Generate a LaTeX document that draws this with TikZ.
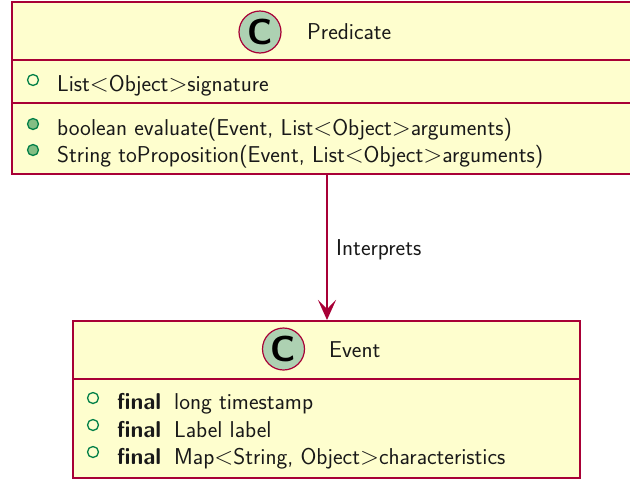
\documentclass[tikz,border=0pt]{standalone}
\usetikzlibrary{arrows.meta}
\definecolor{boxfill}{HTML}{FEFECE}
\definecolor{boxline}{HTML}{A80036}
\definecolor{cfill}{HTML}{ADD1B2}
\definecolor{attrline}{HTML}{038048}
\definecolor{methfill}{HTML}{84BE84}
\tikzset{
  classbox/.style={draw=boxline, fill=boxfill, line width=2pt, rectangle, inner sep=0pt},
  sepline/.style={draw=boxline, line width=2pt},
  txt/.style={anchor=base west, inner sep=0pt, font=\fontsize{22.9}{25}\selectfont\sffamily, text=black!90},
  cmark/.style={circle, draw=boxline, fill=cfill, line width=1.2pt, minimum size=42pt, inner sep=0pt, font=\fontsize{36}{36}\selectfont\sffamily\bfseries},
  attr/.style={circle, draw=attrline, fill=boxfill, line width=1.3pt, minimum size=11pt, inner sep=0pt},
  meth/.style={circle, draw=attrline, fill=methfill, line width=1.3pt, minimum size=11pt, inner sep=0pt},
  link/.style={draw=boxline, line width=1.5pt, -{Stealth[length=20pt,width=18pt,inset=9pt]}}
}
\begin{document}
\begin{tikzpicture}[x=1pt,y=1pt]
\clip (0,0) rectangle (630,-480);
\fill[white] (0,0) rectangle (630,-480);
% Predicate class
\node[classbox, minimum width=630pt, minimum height=172pt, anchor=north west] (pred) at (11,-1) {};
\draw[sepline] (11,-60) -- (641,-60);
\draw[sepline] (11,-103) -- (641,-103);
\node[cmark] (predc) at (260,-32) {C};
\node[txt] (predname) at (307,-39) {Predicate};
\node[attr] (pa1) at (33,-80) {};
\node[txt] (pt1) at (57,-91) {List$<$Object$>$signature};
\node[meth] (pm1) at (33,-124) {};
\node[txt] (pt2) at (57,-135) {boolean evaluate(Event, List$<$Object$>$arguments)};
\node[meth] (pm2) at (33,-150) {};
\node[txt] (pt3) at (57,-162) {String toProposition(Event, List$<$Object$>$arguments)};
% Event class
\node[classbox, minimum width=507pt, minimum height=157pt, anchor=north west] (event) at (72,-320) {};
\draw[sepline] (72,-379) -- (579,-379);
\node[cmark] (eventc) at (283.5,-349) {C};
\node[txt] (eventname) at (329,-357) {Event};
\node[attr] (ea1) at (93,-398) {};
\node[txt] (ef1) at (117,-409) {\bfseries final};
\node[txt] (et1) at (174,-409) {long timestamp};
\node[attr] (ea2) at (93,-425) {};
\node[txt] (ef2) at (117,-437) {\bfseries final};
\node[txt] (et2) at (174,-437) {Label label};
\node[attr] (ea3) at (93,-452) {};
\node[txt] (ef3) at (117,-464) {\bfseries final};
\node[txt] (et3) at (174,-464) {Map$<$String, Object$>$characteristics};
% connector
\draw[link] (pred.south) -- (pred.south |- event.north);
\node[txt] (lbl) at (336,-255) {Interprets};
\end{tikzpicture}
\end{document}
